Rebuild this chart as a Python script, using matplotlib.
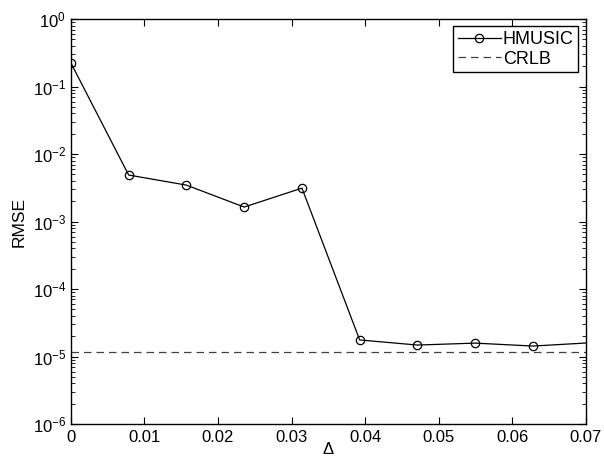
import numpy as np
import matplotlib
matplotlib.use('Agg')
import matplotlib.pyplot as plt
from matplotlib.ticker import LogLocator, NullFormatter

plt.rcParams['font.family'] = ['Liberation Sans', 'DejaVu Sans']
plt.rcParams['mathtext.fontset'] = 'custom'
plt.rcParams['mathtext.rm'] = 'Liberation Sans'
plt.rcParams['mathtext.it'] = 'Liberation Sans:italic'
plt.rcParams['mathtext.default'] = 'regular'

# spacing between points is pi/400
delta = [0.0, 0.00785, 0.0157, 0.02356, 0.03142, 0.03927, 0.04712, 0.05498, 0.06283, 0.07069]
rmse_hmusic = [0.223, 4.89e-3, 3.47e-3, 1.64e-3, 3.13e-3, 1.76e-5, 1.48e-5, 1.58e-5, 1.43e-5, 1.6e-5]
crlb = 1.17e-5
xticks = [0, 0.01, 0.02, 0.03, 0.04, 0.05, 0.06, 0.07]

fig = plt.figure(figsize=(6.04, 4.66), dpi=100)
ax = fig.add_axes([0.1175, 0.0901, 0.852, 0.8689])

ax.semilogy(delta, rmse_hmusic, 'k-o', lw=0.9, markersize=6, markerfacecolor='none',
            markeredgewidth=0.9, label='HMUSIC', clip_on=True)
ax.axhline(crlb, color='0.25', ls=(0, (6, 4)), lw=0.9, label='CRLB')

ax.set_xlim(0, 0.07)
ax.set_ylim(1e-6, 1e0)
ax.set_xticks(xticks)
ax.set_xticklabels(['0', '0.01', '0.02', '0.03', '0.04', '0.05', '0.06', '0.07'])
ax.yaxis.set_major_locator(LogLocator(base=10, numticks=10))
ax.yaxis.set_minor_locator(LogLocator(base=10, subs=np.arange(2, 10), numticks=20))
ax.yaxis.set_minor_formatter(NullFormatter())

ax.tick_params(which='both', direction='in', top=True, right=True, labelsize=12)
ax.tick_params(axis='x', pad=4)
ax.tick_params(which='major', length=5, width=0.8)
ax.tick_params(which='minor', length=3, width=0.6)
for s in ax.spines.values():
    s.set_linewidth(1.0)

ax.set_xlabel('Δ', fontsize=12, labelpad=-2)
ax.set_ylabel('RMSE', fontsize=12.5, labelpad=4)

leg = ax.legend(loc='upper right', fontsize=13, frameon=True, fancybox=False,
                edgecolor='k', framealpha=1, borderpad=0.25, handlelength=2.4,
                handletextpad=0.1, labelspacing=0.15, borderaxespad=0.4)
leg.get_frame().set_linewidth(1.0)

fig.savefig('out.png', dpi=100)
